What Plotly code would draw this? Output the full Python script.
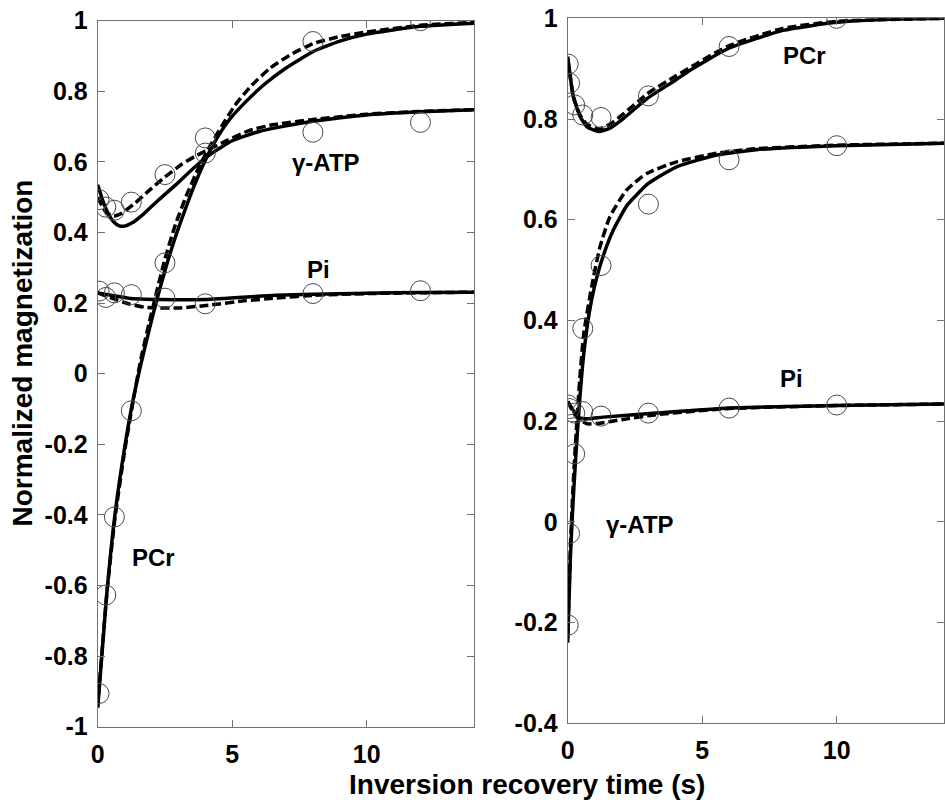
import plotly.graph_objects as go

# ---------------- data ----------------
# Left panel: measured points
t_left = [0.05, 0.3, 0.62, 1.25, 2.5, 4.0, 8.0, 12.0]
pcr_left = [-0.906, -0.627, -0.406, -0.105, 0.314, 0.625, 0.941, 1.0]
atp_left = [0.493, 0.472, 0.463, 0.486, 0.564, 0.668, 0.684, 0.712]
pi_left = [0.234, 0.216, 0.229, 0.224, 0.214, 0.198, 0.227, 0.235]

# Left panel: fitted curves (solid / dashed)
pcr_left_fit_x = [0, 0.33, 0.64, 1.0, 1.3, 1.6, 1.9, 2.2, 2.55, 2.9, 3.25, 3.6, 4.0, 4.4, 4.9, 5.5, 6.2, 7.0, 8.0, 9.0, 10.0, 12.0, 14.0]
pcr_left_fit_y = [-0.945, -0.63, -0.40, -0.21, -0.08, 0.025, 0.12, 0.21, 0.305, 0.39, 0.465, 0.535, 0.605, 0.663, 0.72, 0.77, 0.82, 0.866, 0.912, 0.942, 0.962, 0.984, 0.993]
pcr_left_dash_x = [0, 0.33, 0.64, 1.0, 1.3, 1.6, 1.9, 2.2, 2.5, 2.9, 3.3, 3.7, 4.1, 4.6, 5.1, 5.7, 6.4, 7.2, 8.0, 9.0, 10.0, 12.0, 14.0]
pcr_left_dash_y = [-0.945, -0.63, -0.41, -0.22, -0.085, 0.04, 0.14, 0.235, 0.325, 0.425, 0.505, 0.575, 0.635, 0.70, 0.76, 0.815, 0.865, 0.905, 0.935, 0.955, 0.968, 0.987, 0.995]

atp_left_fit_x = [0, 0.2, 0.4, 0.6, 0.8, 1.0, 1.3, 1.7, 2.2, 2.9, 3.6, 4.2, 5.0, 6.0, 7.0, 8.0, 10.0, 12.0, 14.0]
atp_left_fit_y = [0.535, 0.488, 0.452, 0.43, 0.419, 0.418, 0.428, 0.452, 0.488, 0.535, 0.585, 0.622, 0.66, 0.686, 0.702, 0.715, 0.733, 0.742, 0.748]
atp_left_dash_x = [0, 0.3, 0.6, 0.9, 1.4, 2.0, 2.5, 3.1, 3.6, 4.6, 5.6, 6.5, 8.0, 10.0, 12.0, 14.0]
atp_left_dash_y = [0.50, 0.458, 0.447, 0.455, 0.484, 0.525, 0.557, 0.592, 0.615, 0.653, 0.688, 0.705, 0.72, 0.735, 0.743, 0.748]

pi_left_fit_x = [0, 0.5, 1.14, 2.38, 4.0, 6.6, 8.0, 10.0, 12.0, 14.0]
pi_left_fit_y = [0.229, 0.222, 0.214, 0.21, 0.21, 0.222, 0.225, 0.228, 0.23, 0.231]
pi_left_dash_x = [0, 0.5, 1.14, 1.76, 3.0, 4.24, 5.5, 6.6, 8.0, 10.0, 14.0]
pi_left_dash_y = [0.229, 0.215, 0.198, 0.188, 0.186, 0.195, 0.207, 0.214, 0.222, 0.227, 0.231]

# Right panel: measured points
t_right = [0.02, 0.07, 0.26, 0.56, 1.24, 3.0, 6.0, 10.0]
pcr_right = [0.909, 0.871, 0.828, 0.808, 0.803, 0.846, 0.944, 1.0]
atp_right = [-0.205, -0.023, 0.135, 0.384, 0.509, 0.631, 0.719, 0.747]
pi_right = [0.232, 0.225, 0.216, 0.219, 0.21, 0.216, 0.226, 0.232]

# Right panel: fitted curves
pcr_right_fit_x = [0, 0.21, 0.46, 0.71, 1.14, 1.57, 2.07, 2.96, 4.0, 4.55, 5.97, 8.0, 10.0, 12.0, 14.0]
pcr_right_fit_y = [0.924, 0.844, 0.805, 0.785, 0.775, 0.782, 0.801, 0.841, 0.877, 0.897, 0.94, 0.976, 0.992, 0.998, 1.0]
pcr_right_dash_x = [0, 0.21, 0.46, 0.71, 1.14, 1.57, 2.07, 2.96, 4.0, 5.97, 8.0, 10.0, 14.0]
pcr_right_dash_y = [0.92, 0.845, 0.808, 0.79, 0.78, 0.79, 0.81, 0.85, 0.885, 0.945, 0.98, 0.994, 1.0]

atp_right_fit_x = [0, 0.1, 0.2, 0.3, 0.45, 0.6, 0.8, 1.0, 1.3, 1.7, 2.2, 3.0, 4.05, 5.5, 7.0, 10.0, 14.0]
atp_right_fit_y = [-0.24, -0.07, 0.04, 0.13, 0.245, 0.335, 0.415, 0.468, 0.525, 0.58, 0.628, 0.672, 0.705, 0.728, 0.739, 0.747, 0.752]
atp_right_dash_x = [0, 0.1, 0.2, 0.3, 0.45, 0.6, 0.89, 1.2, 1.57, 2.19, 2.94, 4.05, 5.54, 7.0, 10.0, 14.0]
atp_right_dash_y = [-0.23, -0.05, 0.07, 0.165, 0.285, 0.375, 0.467, 0.546, 0.606, 0.659, 0.692, 0.715, 0.732, 0.741, 0.748, 0.752]

pi_right_fit_x = [0, 0.2, 0.46, 0.8, 1.32, 3.3, 6.0, 10.0, 14.0]
pi_right_fit_y = [0.239, 0.222, 0.206, 0.205, 0.208, 0.216, 0.226, 0.231, 0.234]
pi_right_dash_x = [0, 0.3, 0.7, 1.2, 2.0, 3.3, 6.0, 10.0, 14.0]
pi_right_dash_y = [0.239, 0.21, 0.195, 0.196, 0.203, 0.213, 0.225, 0.231, 0.234]

# Tick labels
x_ticks = [0, 5, 10]
x_ticktext = ["0", "5", "10"]
left_yticks = [-1, -0.8, -0.6, -0.4, -0.2, 0, 0.2, 0.4, 0.6, 0.8, 1]
left_yticktext = ["-1", "-0.8", "-0.6", "-0.4", "-0.2", "0", "0.2", "0.4", "0.6", "0.8", "1"]
right_yticks = [-0.4, -0.2, 0, 0.2, 0.4, 0.6, 0.8, 1]
right_yticktext = ["-0.4", "-0.2", "0", "0.2", "0.4", "0.6", "0.8", "1"]

# Curve labels: (text, x, y, panel)
label_text = ["γ-ATP", "Pi", "PCr", "PCr", "Pi", "γ-ATP"]
label_x = [8.49, 8.2, 2.07, 8.82, 8.33, 2.69]
label_y = [0.597, 0.294, -0.522, 0.927, 0.284, -0.006]
label_panel = [1, 1, 1, 2, 2, 2]

# ---------------- figure ----------------
FONT = "Liberation Sans, Arial, Helvetica, sans-serif"
LINE_W = 3.5
fig = go.Figure()


def add_curve(x, y, xa, ya, dashed):
    fig.add_trace(go.Scatter(
        x=x, y=y, xaxis=xa, yaxis=ya, mode="lines",
        line=dict(color="black", width=LINE_W, shape="spline", smoothing=0.5,
                  dash="9px,4px" if dashed else "solid"),
        hoverinfo="skip", showlegend=False))


def add_points(x, y, xa, ya):
    fig.add_trace(go.Scatter(
        x=x, y=y, xaxis=xa, yaxis=ya, mode="markers",
        marker=dict(symbol="circle-open", size=20, color="#4a4a4a",
                    line=dict(width=1, color="#4a4a4a")),
        showlegend=False))


# left panel
add_curve(pcr_left_fit_x, pcr_left_fit_y, "x", "y", False)
add_curve(pcr_left_dash_x, pcr_left_dash_y, "x", "y", True)
add_curve(atp_left_fit_x, atp_left_fit_y, "x", "y", False)
add_curve(atp_left_dash_x, atp_left_dash_y, "x", "y", True)
add_curve(pi_left_fit_x, pi_left_fit_y, "x", "y", False)
add_curve(pi_left_dash_x, pi_left_dash_y, "x", "y", True)
add_points(t_left, pcr_left, "x", "y")
add_points(t_left, atp_left, "x", "y")
add_points(t_left, pi_left, "x", "y")

# right panel
add_curve(pcr_right_fit_x, pcr_right_fit_y, "x2", "y2", False)
add_curve(pcr_right_dash_x, pcr_right_dash_y, "x2", "y2", True)
add_curve(atp_right_fit_x, atp_right_fit_y, "x2", "y2", False)
add_curve(atp_right_dash_x, atp_right_dash_y, "x2", "y2", True)
add_curve(pi_right_fit_x, pi_right_fit_y, "x2", "y2", False)
add_curve(pi_right_dash_x, pi_right_dash_y, "x2", "y2", True)
add_points(t_right, pcr_right, "x2", "y2")
add_points(t_right, atp_right, "x2", "y2")
add_points(t_right, pi_right, "x2", "y2")

axis_common = dict(
    showgrid=False, zeroline=False, showline=True, linecolor="#707070", linewidth=1,
    mirror="ticks", ticks="inside", ticklen=7, tickcolor="#707070", tickwidth=1,
    tickfont=dict(family=FONT, size=25, color="black", weight="bold"),
    automargin=False,
)

fig.update_layout(
    width=945, height=800,
    margin=dict(l=0, r=0, t=0, b=0),
    paper_bgcolor="white", plot_bgcolor="white",
    showlegend=False,
    xaxis=dict(domain=[0.10339, 0.50190], range=[0, 14], anchor="y",
               tickvals=x_ticks, ticktext=x_ticktext, ticklabelstandoff=5, **axis_common),
    yaxis=dict(domain=[0.091625, 0.974125], range=[-1, 1], anchor="x",
               tickvals=left_yticks, ticktext=left_yticktext, ticklabelstandoff=4, **axis_common),
    xaxis2=dict(domain=[0.60074, 0.99926], range=[0, 14], anchor="y2",
                tickvals=x_ticks, ticktext=x_ticktext, ticklabelstandoff=5, **axis_common),
    yaxis2=dict(domain=[0.095875, 0.977125], range=[-0.4, 1], anchor="x2",
                tickvals=right_yticks, ticktext=right_yticktext, ticklabelstandoff=4, **axis_common),
)

for txt, lx, ly, p in zip(label_text, label_x, label_y, label_panel):
    fig.add_annotation(
        text=txt, x=lx, y=ly,
        xref="x" if p == 1 else "x2", yref="y" if p == 1 else "y2",
        showarrow=False, xanchor="center", yanchor="middle",
        font=dict(family=FONT, size=24, color="black", weight="bold"))

# axis titles
fig.add_annotation(
    text="Normalized magnetization", textangle=-90,
    x=22 / 945, y=1 - 353.5 / 800, xref="paper", yref="paper",
    xanchor="center", yanchor="middle", showarrow=False,
    font=dict(family=FONT, size=28, color="black", weight="bold"))
fig.add_annotation(
    text="Inversion recovery time (s)",
    x=527 / 945, y=1 - 784 / 800, xref="paper", yref="paper",
    xanchor="center", yanchor="middle", showarrow=False,
    font=dict(family=FONT, size=28, color="black", weight="bold"))

fig.write_html("out.html")
